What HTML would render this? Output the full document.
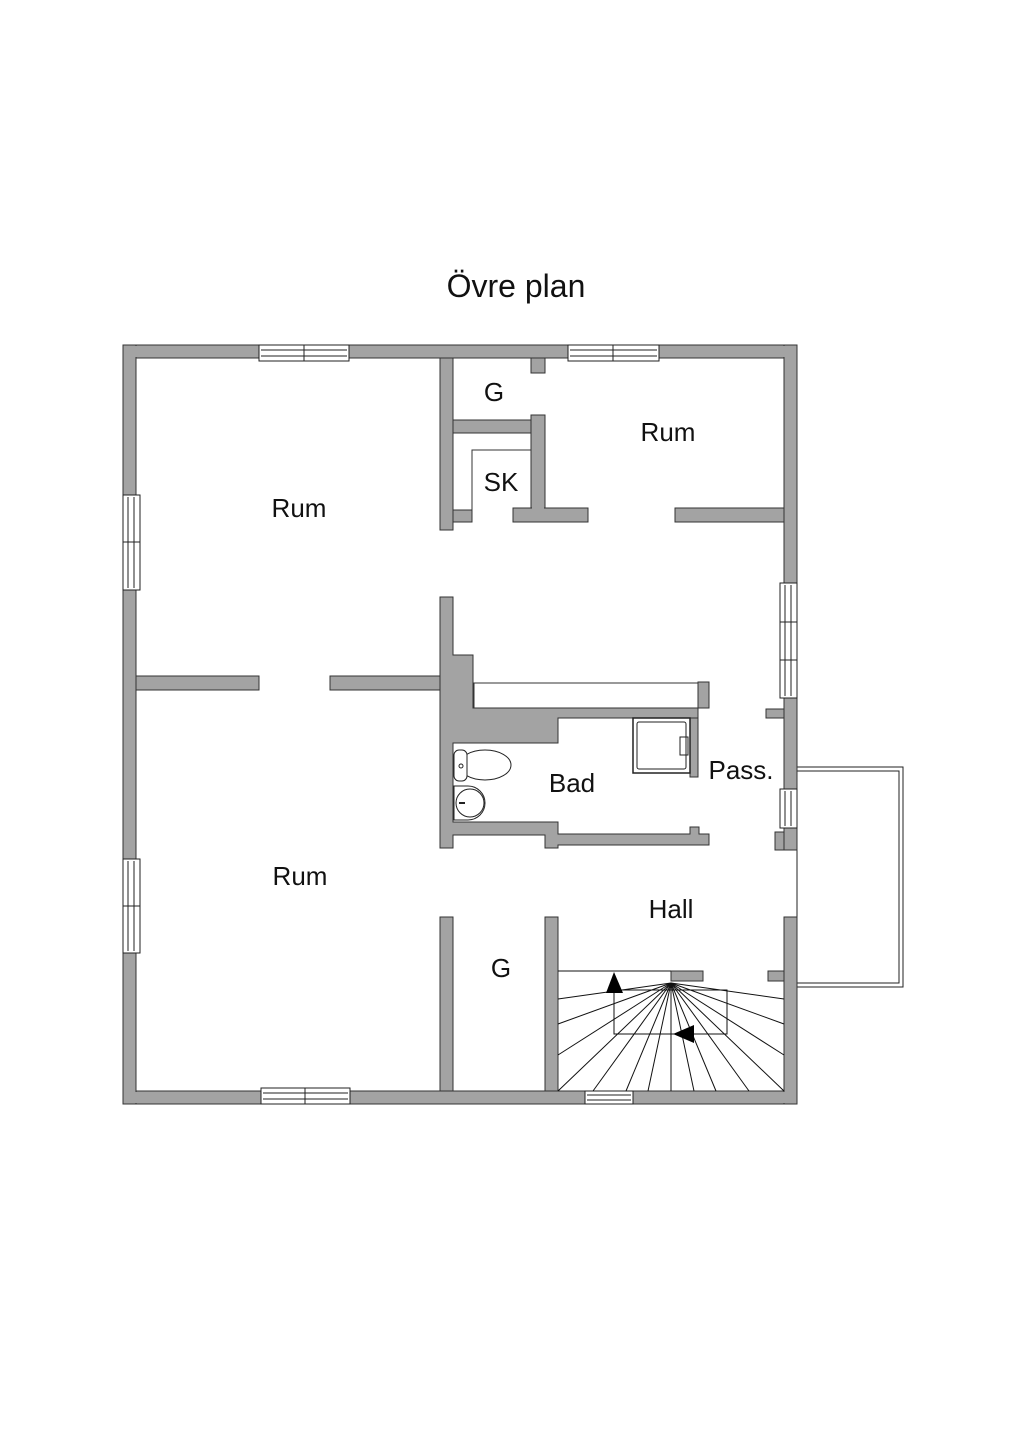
<!DOCTYPE html>
<html><head><style>
html,body{margin:0;padding:0;background:#fff;}
svg{display:block;}
text{font-family:"Liberation Sans",sans-serif;fill:#111;}
</style></head><body>
<svg width="1024" height="1448" viewBox="0 0 1024 1448" xmlns="http://www.w3.org/2000/svg">
<text x="516" y="297" font-size="32" text-anchor="middle">Övre plan</text>
<!-- balcony -->
<rect x="797" y="767" width="106" height="220" fill="none" stroke="#222" stroke-width="1"/>
<rect x="797" y="771" width="102" height="212" fill="none" stroke="#222" stroke-width="1"/>
<g fill="#a3a3a3" stroke="#333" stroke-width="1">
<rect x="123" y="345" width="674" height="13"/>
<rect x="123" y="1091" width="674" height="13"/>
<rect x="123" y="345" width="13" height="759"/>
<rect x="784" y="345" width="13" height="505"/>
<rect x="784" y="917" width="13" height="187"/>
<rect x="766" y="709" width="18" height="9"/>
<rect x="775" y="832" width="9" height="18"/>
<rect x="768" y="971" width="16" height="10"/>
<rect x="440" y="358" width="13" height="172"/>
<rect x="453" y="510" width="19" height="12"/>
<rect x="453" y="420" width="78" height="13"/>
<rect x="531" y="415" width="14" height="107"/>
<rect x="513" y="508" width="75" height="14"/>
<rect x="531" y="358" width="14" height="15"/>
<rect x="675" y="508" width="109" height="14"/>
<rect x="136" y="676" width="123" height="14"/>
<rect x="330" y="676" width="110" height="14"/>
<path d="M440 597 H453 V655 H473 V708 H709 V682 H698 V718 H558 V743 H453 V822 H545 V822 H558 V834 H690 V827 H699 V834 H709 V845 H558 V848 H545 V835 H453 V848 H440 Z"/>
<rect x="690" y="718" width="8" height="59"/>
<rect x="440" y="917" width="13" height="174"/>
<rect x="545" y="917" width="13" height="174"/>
<rect x="671" y="971" width="32" height="10"/>
</g>
<!-- hide seams -->
<g fill="#a3a3a3">
<rect x="124" y="346" width="672" height="11"/>
<rect x="124" y="1092" width="672" height="11"/>
<rect x="124" y="346" width="11" height="757"/>
<rect x="785" y="346" width="11" height="503"/>
<rect x="785" y="918" width="11" height="185"/>
<rect x="441" y="359" width="11" height="170"/>
<rect x="532" y="416" width="12" height="105"/>
</g>
<rect x="474" y="683" width="224" height="25" fill="#fff" stroke="#333" stroke-width="1"/>
<g fill="#fff" stroke="#222" stroke-width="1">
<rect x="259" y="345" width="90" height="16"/><line x1="261" y1="350" x2="347" y2="350"/><line x1="261" y1="356" x2="347" y2="356"/><line x1="304" y1="345" x2="304" y2="361"/>
<rect x="568" y="345" width="91" height="16"/><line x1="570" y1="350" x2="657" y2="350"/><line x1="570" y1="356" x2="657" y2="356"/><line x1="613" y1="345" x2="613" y2="361"/>
<rect x="261" y="1088" width="89" height="16"/><line x1="263" y1="1093" x2="348" y2="1093"/><line x1="263" y1="1099" x2="348" y2="1099"/><line x1="305" y1="1088" x2="305" y2="1104"/>
<rect x="585" y="1091" width="48" height="13"/><line x1="587" y1="1095" x2="631" y2="1095"/><line x1="587" y1="1100" x2="631" y2="1100"/>
<rect x="123" y="495" width="17" height="95"/><line x1="128" y1="497" x2="128" y2="588"/><line x1="134" y1="497" x2="134" y2="588"/><line x1="123" y1="542" x2="140" y2="542"/>
<rect x="123" y="859" width="17" height="94"/><line x1="128" y1="861" x2="128" y2="951"/><line x1="134" y1="861" x2="134" y2="951"/><line x1="123" y1="906" x2="140" y2="906"/>
<rect x="780" y="583" width="17" height="115"/><line x1="785" y1="585" x2="785" y2="696"/><line x1="791" y1="585" x2="791" y2="696"/><line x1="780" y1="622" x2="797" y2="622"/><line x1="780" y1="660" x2="797" y2="660"/>
<rect x="780" y="789" width="17" height="39"/><line x1="785" y1="791" x2="785" y2="826"/><line x1="791" y1="791" x2="791" y2="826"/>
</g>
<path d="M472 510 V450 H531" fill="none" stroke="#333"/>
<rect x="633" y="718" width="57" height="55" fill="#fff" stroke="#222" stroke-width="1.5"/>
<rect x="637" y="722" width="49" height="47" rx="2" fill="none" stroke="#222"/>
<rect x="680" y="737" width="8" height="18" fill="none" stroke="#222"/>
<ellipse cx="485" cy="765" rx="26" ry="15" fill="#fff" stroke="#222"/>
<rect x="454" y="750" width="13" height="31" rx="5" fill="#fff" stroke="#222"/>
<circle cx="461" cy="766" r="2" fill="none" stroke="#222"/>
<path d="M454 786 H468 A17 17 0 0 1 468 820 H454 Z" fill="#fff" stroke="#222"/>
<circle cx="470" cy="803" r="14" fill="none" stroke="#222"/>
<line x1="459" y1="803" x2="465" y2="803" stroke="#222" stroke-width="2"/>
<g stroke="#111" stroke-width="1" fill="none">
<line x1="558" y1="971" x2="671" y2="971"/>
<rect x="614" y="990" width="113" height="44"/>
<line x1="671" y1="983" x2="558" y2="999"/>
<line x1="671" y1="983" x2="558" y2="1024"/>
<line x1="671" y1="983" x2="558" y2="1055"/>
<line x1="671" y1="983" x2="558" y2="1091"/>
<line x1="671" y1="983" x2="593" y2="1091"/>
<line x1="671" y1="983" x2="626" y2="1091"/>
<line x1="671" y1="983" x2="648" y2="1091"/>
<line x1="671" y1="983" x2="671" y2="1091"/>
<line x1="671" y1="983" x2="694" y2="1091"/>
<line x1="671" y1="983" x2="716" y2="1091"/>
<line x1="671" y1="983" x2="749" y2="1091"/>
<line x1="671" y1="983" x2="784" y2="1091"/>
<line x1="671" y1="983" x2="784" y2="1055"/>
<line x1="671" y1="983" x2="784" y2="1024"/>
<line x1="671" y1="983" x2="784" y2="999"/>
</g>
<polygon points="614,972 606,993 623,993" fill="#000"/>
<polygon points="673,1034 694,1025 694,1043" fill="#000"/>
<g font-size="26">
<text x="299" y="517" text-anchor="middle">Rum</text>
<text x="668" y="441" text-anchor="middle">Rum</text>
<text x="494" y="401" text-anchor="middle">G</text>
<text x="501" y="491" text-anchor="middle">SK</text>
<text x="572" y="792" text-anchor="middle">Bad</text>
<text x="741" y="779" text-anchor="middle">Pass.</text>
<text x="300" y="885" text-anchor="middle">Rum</text>
<text x="671" y="918" text-anchor="middle">Hall</text>
<text x="501" y="977" text-anchor="middle">G</text>
</g>
</svg>
</body></html>
